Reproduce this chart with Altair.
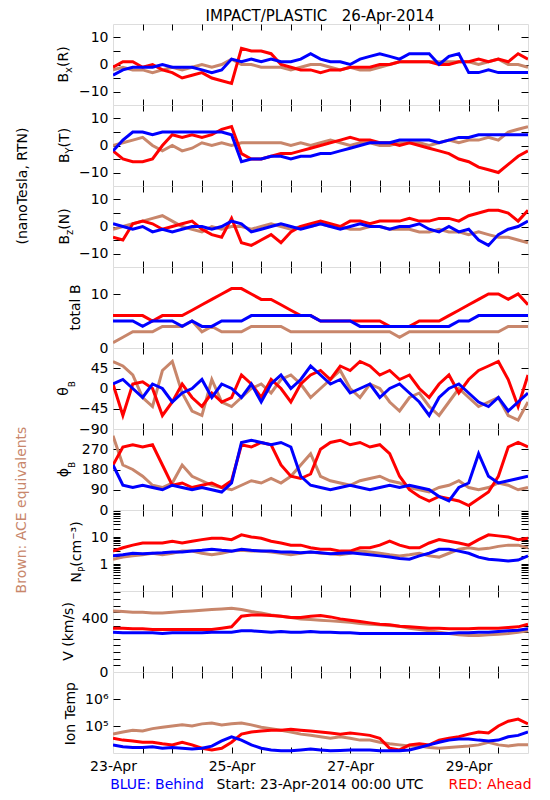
import altair as alt
import pandas as pd

# ---------------- data (4-hour steps, hours since 23-Apr-2014 00:00 UTC) ----------------
hours = list(range(0, 169, 4))
day_labels = ["23-Apr", "24-Apr", "25-Apr", "26-Apr", "27-Apr", "28-Apr", "29-Apr", "30-Apr"]

bx_ahead = [-1, 1, 1, -1, 0, -2, -3, -5, -4, -3, -5, -6, -7, 6, 5, 5, 4, 0, -1, -2, -2, -3, -2, -2, -1, -1,
            -1, 0, 0, 1, 1, 1, 1, 0, 0, 1, 1, 2, 1, 2, 1, 4, 2]
bx_behind = [-4, -2, -1, -1, -1, 0, -1, -1, -1, -2, -3, -2, 2, 1, 2, 1, 2, 1, 1, 2, 4, 2, 1, 1, 0, 2,
             3, 4, 3, 2, 4, 4, 4, 0, 3, 4, -3, -3, -2, -3, -3, -3, -3]
bx_ace = [-2, -1, -2, -2, -3, -2, -1, -2, -1, 0, -1, 0, 2, 0, 0, -1, -1, -1, -2, -1, 0, 0, -1, -2, -1, -2,
          -2, -1, 0, 1, 1, 1, 1, 1, 1, 1, 1, 0, 1, 2, 0, 0, -1]

by_ahead = [-2, -5, -6, -6, -5, 0, 4, 3, 4, 3, 4, 6, 7, -3, -5, -5, -4, -3, -3, -2, -1, 0, 1, 2, 3, 2,
            2, 1, 1, 0, 1, 0, -1, -2, -3, -5, -6, -8, -9, -10, -7, -4, -2]
by_behind = [-2, 2, 5, 5, 4, 5, 5, 5, 5, 5, 5, 5, 4, -6, -5, -5, -4, -4, -5, -4, -4, -3, -3, -2, -1, 0,
             1, 1, 1, 2, 2, 2, 2, 1, 2, 3, 3, 4, 4, 4, 4, 4, 4]
by_ace = [0, 1, 2, 3, 0, -2, 0, -2, -1, 1, 0, 1, 0, 1, 1, 1, 1, 1, 0, 1, 0, 1, 2, 1, 0, 1,
          1, 0, 0, 1, 1, 1, 0, 1, 2, 1, 2, 2, 3, 2, 5, 6, 7]

bz_ahead = [-4, -5, 1, 2, 1, -1, 0, 1, 2, -1, -3, -4, 3, -6, -7, -5, -3, -6, -2, 0, 1, 2, 1, 0, 2, 2,
            1, 2, 2, 2, 3, 2, 2, 3, 3, 2, 4, 5, 6, 6, 5, 2, 6]
bz_behind = [1, 0, -1, 0, -2, -1, -2, -1, 0, 0, -1, 0, 2, 1, -2, -1, 0, 1, 0, -1, 0, 1, 0, -1, 0, 1,
             0, 0, -1, 0, 0, 1, -1, -2, 0, -2, -1, -5, -7, -3, -1, 0, 2]
bz_ace = [-1, 0, 1, 2, 3, 4, 2, 0, -1, -2, 0, -1, 0, 0, -1, 0, 1, 0, -1, 0, 0, 1, 0, 0, -1, -1,
          0, 0, -1, -1, -1, -2, -2, -1, -2, -2, -3, -2, -3, -4, -4, -5, -6]

bt_ahead = [6, 6, 6, 6, 5, 6, 6, 6, 7, 8, 9, 10, 11, 11, 10, 9, 9, 8, 7, 6, 6, 5, 5, 5, 5, 5,
            5, 5, 4, 4, 4, 5, 5, 5, 6, 7, 8, 9, 10, 10, 9, 10, 8]
bt_behind = [5, 5, 5, 4, 5, 5, 5, 4, 5, 4, 4, 5, 5, 5, 6, 6, 6, 6, 6, 6, 6, 5, 5, 5, 5, 4,
             4, 4, 4, 4, 4, 4, 4, 4, 4, 5, 5, 6, 6, 6, 6, 6, 6]
bt_ace = [1, 2, 3, 3, 3, 4, 4, 4, 5, 3, 4, 3, 3, 3, 4, 4, 4, 4, 3, 3, 3, 3, 3, 3, 3, 3,
          3, 3, 3, 2, 3, 3, 3, 3, 3, 3, 3, 3, 3, 3, 4, 4, 4]

th_ahead = [10, -60, 10, 15, 0, -60, -30, 10, -20, -40, -10, -30, -20, 30, 10, -20, 20, 0, -30, 10, 30, 40,
            20, 50, 40, 60, 50, 30, 40, 20, 30, 0, -20, 10, 30, -10, 20, 40, 50, 60, 20, -40, 30]
th_behind = [10, 20, 0, -20, 10, 0, -30, -10, 0, 20, -20, 10, 0, -20, 10, -30, 10, 30, 0, 20, 50, 30,
             10, 20, -10, 0, 10, -20, 0, 10, -10, -30, -60, -20, 0, 10, -10, -30, -40, -20, -50, -30, -10]
th_ace = [60, 50, 30, -20, -40, 40, 60, -10, -50, -60, 20, -30, -40, -20, 0, 10, -10, 20, 30, 10, -20, 0,
          20, 40, 0, -20, 10, 0, -30, -50, -20, -10, -40, -60, -30, 0, -20, -40, -30, -20, -60, -70, -30]

ph_ahead = [200, 280, 290, 280, 290, 200, 110, 120, 100, 110, 120, 100, 130, 290, 280, 300, 290, 200, 150,
            140, 160, 270, 300, 310, 290, 300, 280, 290, 250, 150, 90, 60, 40, 60, 50, 40, 20, 50, 80, 150,
            280, 300, 280]
ph_behind = [200, 110, 100, 110, 100, 90, 110, 100, 90, 100, 90, 80, 120, 300, 310, 300, 290, 300, 280,
             150, 110, 100, 90, 100, 110, 100, 90, 100, 110, 100, 110, 100, 90, 60, 40, 100, 120, 250, 150,
             120, 130, 140, 150]
ph_ace = [330, 200, 180, 150, 110, 100, 120, 200, 150, 130, 110, 100, 90, 110, 130, 120, 140, 120, 150,
          200, 250, 150, 130, 120, 110, 130, 140, 150, 130, 120, 100, 90, 80, 100, 110, 130, 100, 90, 100,
          120, 110, 90, 100]

np_ahead = [3, 4, 5, 6, 6, 6, 7, 6, 7, 8, 9, 9, 8, 12, 10, 9, 7, 6, 5, 5, 4, 3.5, 3.5, 3, 3, 4,
            4, 5, 7, 5, 4, 4, 6, 8, 7, 6, 5, 8, 12, 11, 10, 8, 9]
np_behind = [2, 2.2, 2.5, 2.4, 2.5, 2.6, 2.8, 2.8, 3, 3.2, 3.5, 3.2, 3, 3.5, 3.2, 3, 3, 2.8, 2.8, 2.6,
             2.8, 2.6, 2.4, 2.5, 2.6, 2.4, 2.2, 2.0, 1.8, 1.6, 1.5, 2.0, 2.5, 3.5, 3.5, 3.0, 2.5, 1.8,
             1.5, 1.4, 1.3, 1.4, 2.0]
np_ace = [1.5, 1.8, 2, 2.2, 2.5, 2.2, 2.5, 3, 3, 2.5, 2.2, 2.5, 3, 3.2, 3, 3, 2.8, 2.5, 2.2, 2.5, 2.8,
          2.5, 2.4, 2.2, 2.5, 3, 2.8, 2.5, 2.2, 2.0, 2.2, 2.5, 2.0, 1.8, 2.5, 3.5, 4.0, 3.5, 3.8, 4.5,
          5, 5, 4]

v_ahead = [330, 330, 325, 325, 320, 320, 320, 320, 320, 320, 320, 330, 340, 420, 430, 430, 425, 420, 410,
           410, 420, 425, 415, 400, 390, 380, 370, 360, 355, 345, 340, 335, 330, 330, 325, 325, 325, 330,
           330, 330, 335, 340, 360]
v_behind = [300, 295, 295, 295, 295, 290, 295, 295, 295, 295, 300, 300, 300, 310, 310, 305, 300, 305, 300,
            300, 305, 300, 300, 295, 295, 290, 290, 290, 290, 290, 290, 290, 290, 290, 290, 295, 295, 300,
            300, 305, 310, 315, 325]
v_ace = [460, 455, 450, 450, 445, 445, 450, 455, 460, 465, 470, 475, 480, 470, 455, 445, 430, 420, 410, 400,
         395, 390, 385, 380, 375, 365, 360, 355, 350, 345, 330, 320, 310, 300, 290, 280, 275, 275, 280, 285,
         290, 300, 310]

t_ahead = [35000, 30000, 28000, 25000, 25000, 22000, 20000, 25000, 20000, 15000, 13000, 15000, 25000,
           50000, 60000, 65000, 70000, 70000, 75000, 70000, 65000, 60000, 55000, 50000, 55000, 50000, 45000,
           35000, 15000, 13000, 20000, 22000, 20000, 30000, 35000, 40000, 50000, 60000, 55000, 100000,
           150000, 180000, 120000]
t_behind = [20000, 17000, 16000, 16000, 17000, 15000, 16000, 15000, 14000, 15000, 18000, 28000, 40000,
            30000, 20000, 15000, 13000, 12000, 12000, 13000, 14000, 13000, 12000, 12500, 13000, 13000,
            13000, 12000, 12000, 12000, 13000, 16000, 20000, 25000, 30000, 33000, 33000, 30000, 28000,
            30000, 40000, 45000, 60000]
t_ace = [50000, 60000, 70000, 65000, 80000, 90000, 100000, 110000, 100000, 120000, 130000, 110000, 120000,
         130000, 110000, 90000, 80000, 70000, 60000, 50000, 45000, 40000, 35000, 40000, 35000, 30000, 30000,
         25000, 22000, 20000, 18000, 18000, 16000, 15000, 16000, 17000, 18000, 20000, 25000, 20000, 18000,
         20000, 20000]

# ---------------- styling ----------------
FONT = "DejaVu Sans"
BROWN = "#C8866B"
RED = "#FF0000"
BLUE = "#0000FF"
W, H = 415, 81
X_TICKS = list(range(12, 168, 12))
X_SCALE = alt.Scale(domain=[0, 168], nice=False, zero=False)

CW = {"B": .686, "x": .592, "Y": .611, "z": .525, "R": .695, "T": .611, "N": .748, "P": .603,
      "(": .39, ")": .39, " ": .318, "c": .55, "m": .974, "k": .579, "/": .337, "s": .521, "V": .684,
      "I": .295, "o": .612, "n": .634, "e": .615, "p": .635, "t": .392, "a": .613, "l": .278,
      "θ": .602, "ϕ": .65, "⁻": .42, "³": .4}


def tw(s, size):
    return sum(CW.get(c, 0.6) for c in s) * size


ONE = pd.DataFrame({"k": [0]})


def text_layer(txt, x, y, size, color="black", angle=0, align="center"):
    return alt.Chart(ONE).mark_text(text=txt, fontSize=size, font=FONT, color=color, angle=angle,
                                    align=align, baseline="middle").encode(x=alt.value(x), y=alt.value(y))


def ytitle(pieces, xc, yc):
    total = sum(tw(t, s) for t, s, _ in pieces)
    y = yc + total / 2
    out = []
    for t, s, shift in pieces:
        out.append(text_layer(t, xc + shift, y, s, angle=270, align="left"))
        y -= tw(t, s)
    return out


def panel(ace, ahead, behind, yscale, tick_vals, label_vals, pieces, title_x, bottom=False,
          fmt=None, lexpr=None, extra=()):
    lab = dict(orient="left", values=label_vals, ticks=False, tickSize=0, labelPadding=5, domain=False,
               grid=False, title=None, labelFont=FONT, labelFontSize=14, labelColor="black")
    if fmt:
        lab["format"] = fmt
    if lexpr:
        lab["labelExpr"] = lexpr
    ylab = alt.Axis(**lab)
    yl_t = alt.Axis(orient="left", offset=-7, values=tick_vals, tickSize=7, labels=False, domain=False,
                    grid=False, title=None, tickColor="black")
    yr_t = alt.Axis(orient="right", offset=-7, values=tick_vals, tickSize=7, labels=False, domain=False,
                    grid=False, title=None, tickColor="black")
    xb_t = alt.Axis(orient="bottom", offset=-6, values=X_TICKS, tickSize=6, labels=False, domain=False,
                    grid=False, title=None, tickColor="black")
    xt_t = alt.Axis(orient="top", offset=-6, values=X_TICKS, tickSize=6, labels=False, domain=False,
                    grid=False, title=None, tickColor="black")
    if bottom:
        expr = "[" + ",".join("'%s'" % d for d in day_labels) + "][round(datum.value/24)]"
        xlab = alt.Axis(orient="bottom", values=[0, 48, 96, 144], ticks=False, tickSize=0, labelPadding=6,
                        domain=False, grid=False, title=None, labelExpr=expr, labelFont=FONT,
                        labelFontSize=14, labelColor="black", labelFlush=False, labelOverlap=False)
    else:
        xlab = None

    def series(vals, color, xa, ya):
        df = pd.DataFrame({"h": hours, "v": vals})
        return alt.Chart(df).mark_line(color=color, strokeWidth=3, clip=True).encode(
            x=alt.X("h:Q", scale=X_SCALE, axis=xa),
            y=alt.Y("v:Q", scale=yscale, axis=ya))

    layers = [series(ace, BROWN, xlab, ylab), series(ahead, RED, xb_t, yl_t), series(behind, BLUE, xt_t, yr_t)]
    layers += ytitle(pieces, title_x, H / 2)
    layers += list(extra)
    return alt.layer(*layers).resolve_axis(x="independent", y="independent").properties(width=W, height=H)


lin = lambda lo, hi: alt.Scale(domain=[lo, hi], nice=False, zero=False)
logs = lambda lo, hi: alt.Scale(type="log", domain=[lo, hi], nice=False)

np_minor = [m * d for d in (0.1, 1, 10) for m in range(2, 10)] + [1, 10]

p1 = panel(bx_ace, bx_ahead, bx_behind, lin(-15, 15), [-10, -5, 0, 5, 10], [-10, 0, 10],
           [("B", 14, 0), ("x", 10, 5), ("(R)", 14, 0)], -49,
           extra=[text_layer("IMPACT/PLASTIC\u00a0\u00a0\u00a026-Apr-2014", 207, -8, 15)])
p2 = panel(by_ace, by_ahead, by_behind, lin(-15, 15), [-10, -5, 0, 5, 10], [-10, 0, 10],
           [("B", 14, 0), ("Y", 10, 5), ("(T)", 14, 0)], -48,
           extra=[text_layer("(nanoTesla, RTN)", -90, H, 14, angle=270)])
p3 = panel(bz_ace, bz_ahead, bz_behind, lin(-15, 15), [-10, -5, 0, 5, 10], [-10, 0, 10],
           [("B", 14, 0), ("z", 10, 5), ("(N)", 14, 0)], -48)
p4 = panel(bt_ace, bt_ahead, bt_behind, lin(0, 15), [5, 10], [0, 10],
           [("total B", 14, 0)], -37)
p5 = panel(th_ace, th_ahead, th_behind, lin(-90, 90), [-45, 0, 45], [-90, -45, 0, 45],
           [("θ", 14, 0), ("B", 9, 8)], -49)
p6 = panel(ph_ace, ph_ahead, ph_behind, lin(0, 360), [90, 180, 270], [0, 90, 180, 270],
           [("ϕ", 14, 0), ("B", 9, 8)], -49,
           extra=[text_layer("Brown: ACE equivalents", -91, H, 14, color=BROWN, angle=270)])
p7 = panel(np_ace, np_ahead, np_behind, logs(0.1, 100), np_minor, [1, 10],
           [("N", 14, 0), ("P", 9, 5), (" (cm⁻³)", 14, 0)], -36, fmt="d")
p8 = panel(v_ace, v_ahead, v_behind, lin(0, 610), list(range(50, 601, 50)), [0, 400],
           [("V (km/s)", 14, 0)], -44)
p9 = panel(t_ace, t_ahead, t_behind, logs(1e4, 1e7), [1e5, 1e6], [1e5, 1e6],
           [("Ion Temp", 14, 0)], -42, bottom=True,
           lexpr="datum.value >= 1e6 ? '10⁶' : '10⁵'",
           extra=[text_layer("BLUE: Behind", 44, 113, 14, color=BLUE),
                  text_layer("Start: 23-Apr-2014 00:00 UTC", 207, 113, 14),
                  text_layer("RED: Ahead", 377, 113, 14, color=RED)])

chart = alt.vconcat(p1, p2, p3, p4, p5, p6, p7, p8, p9, spacing=0, bounds="flush").properties(
    padding={"left": 6, "top": 0, "right": 5, "bottom": 5}, background="white"
).configure_view(stroke="black", strokeWidth=1).configure(font=FONT)

chart.save("out.html", embed_options={"renderer": "svg", "actions": False})
